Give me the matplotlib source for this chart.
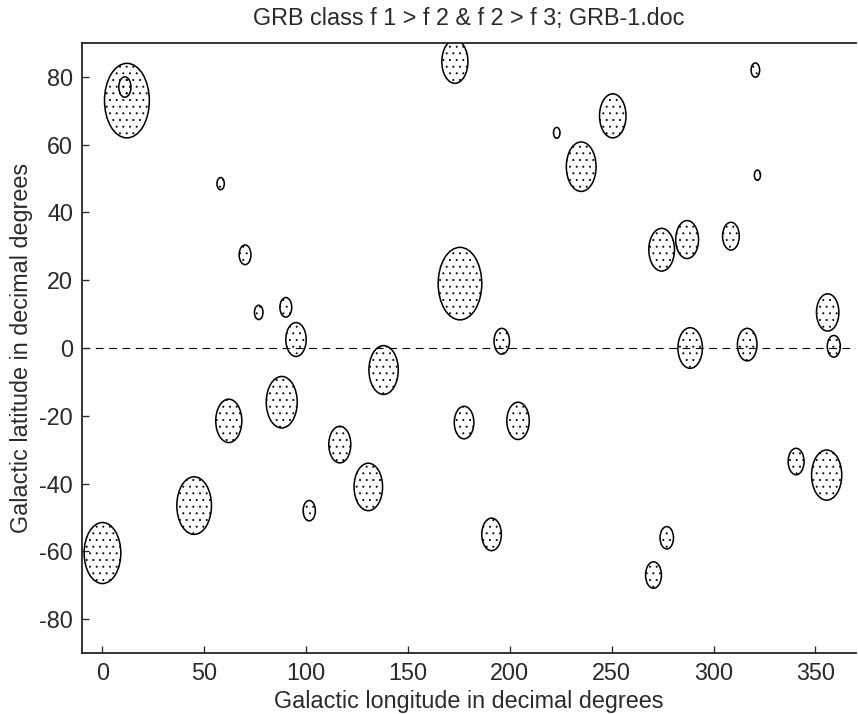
import numpy as np
import matplotlib
matplotlib.use('Agg')
import matplotlib.pyplot as plt
from matplotlib.patches import Ellipse

# GRB positions (galactic lon / lat, degrees) and error-circle radius (degrees)
lon = [12, 11, 58, 70, 76.7, 90, 95, 173, 320.5, 223, 250.5, 235, 321.5, 175.5,
       196, 274.5, 287, 308.5, 356, 288.5, 316.5, 359, 0, 45, 62, 88, 116.5,
       130.5, 101.5, 138, 177.5, 204, 191, 277, 270.5, 340.5, 355.5]
lat = [73, 77, 48.5, 27.5, 10.5, 12, 2.5, 84.5, 82, 63.5, 68.5, 53.5, 51, 19,
       2, 29, 32, 33, 10.5, 0, 1, 0.5, -60.5, -46.5, -21.5, -16, -28.5,
       -41, -48, -6.5, -22, -21.5, -55, -56, -67, -33.5, -37.5]
radius = [11, 3, 1.8, 2.9, 2.1, 2.9, 5, 6.4, 2.1, 1.6, 6.5, 7.3, 1.5, 10.7,
          3.8, 6.3, 5.6, 4.1, 5.5, 6, 4.8, 3.2, 9, 8.5, 6.4, 7.6, 5.4,
          7, 3, 7.2, 4.8, 5.5, 4.8, 3.3, 3.9, 3.9, 7.4]

xticks = [0, 50, 100, 150, 200, 250, 300, 350]
yticks = [-80, -60, -40, -20, 0, 20, 40, 60, 80]

plt.rcParams['font.family'] = ['Liberation Sans', 'DejaVu Sans']
plt.rcParams['axes.unicode_minus'] = False
plt.rcParams['hatch.linewidth'] = 0.6
plt.rcParams['hatch.color'] = 'black'

DPI = 80
FS = 21
TXT = '#2a2a2a'
fig = plt.figure(figsize=(858 / DPI, 714 / DPI), dpi=DPI)
ax = fig.add_axes([82.1 / 858, 61 / 714, (856.2 - 82.1) / 858, 610 / 714])

# zero-latitude line
ax.axhline(0, color='black', lw=1.0, ls=(0, (7, 5)), zorder=1)

# error circles, dotted
for x, y, r in zip(lon, lat, radius):
    e = Ellipse((x, y), 2 * r, 2 * r, fill=False, edgecolor='black',
                lw=1.4, hatch='..', zorder=2)
    ax.add_patch(e)

ax.set_xlim(-10, 370)
ax.set_ylim(-90, 90)
ax.set_xticks(xticks)
ax.set_yticks(yticks)
ax.tick_params(direction='in', length=6.5, width=1.2, labelsize=FS, pad=8,
               top=False, right=False, colors=TXT)
for s in ['left', 'bottom', 'top']:
    ax.spines[s].set_linewidth(1.6)
    ax.spines[s].set_color('#222222')
ax.spines['right'].set_visible(False)

ax.set_title('GRB class f 1 > f 2 & f 2 > f 3; GRB-1.doc', fontsize=FS, pad=16,
             color=TXT)
ax.set_xlabel('Galactic longitude in decimal degrees', fontsize=FS, labelpad=4.5,
              color=TXT)
ax.set_ylabel('Galactic latitude in decimal degrees', fontsize=FS, labelpad=6,
              color=TXT)

fig.savefig('out.png', dpi=DPI)
